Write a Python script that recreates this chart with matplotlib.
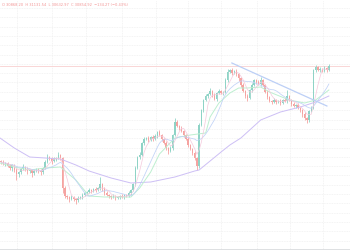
import numpy as np
import pandas as pd
import matplotlib
matplotlib.use("Agg")
import matplotlib.pyplot as plt

# candle closes
closes = [29080, 29040, 29060, 29000, 28960, 29020, 28920, 28840, 28880, 28940,
          28980, 28940, 28900, 28920, 28860, 28900, 28940, 28900, 28880, 28960,
          29080, 29180, 29160, 29100, 29140, 29160, 29220, 29160, 28560, 28400,
          28380, 28340, 28380, 28340, 28320, 28360, 28380, 28420, 28460, 28480,
          28520, 28500, 28540, 28520, 28560, 28640, 28560, 28460, 28420, 28400,
          28380, 28400, 28360, 28380, 28400, 28380, 28420, 28400, 28460, 28520,
          28640, 28960, 29180, 29220, 29460, 29540, 29560, 29520, 29580, 29540,
          29600, 29680, 29620, 29540, 29460, 29360, 29300, 29360, 29620, 29880,
          29800, 29760, 29700, 29620, 29540, 29420, 29340, 29260, 29160, 29000,
          29820, 30120, 30320, 30400, 30440, 30500, 30420, 30340, 30460, 30500,
          30460, 30480, 30720, 30880, 30920, 30860, 30900, 30840, 30760, 30620,
          30500, 30400, 30360, 30520, 30620, 30720, 30680, 30640, 30720, 30620,
          30480, 30380, 30300, 30280, 30320, 30280, 30300, 30260, 30320, 30300,
          30400, 30320, 30240, 30200, 30220, 30160, 30120, 30040, 29960, 29920,
          30100, 30160, 30920, 30980, 30920, 30940, 30900, 30960, 30920, 31000]
first_open = 29100

# wick lengths above / below the body (price units)
wick_up = [20, 40, 20, 20, 40, 20, 20, 40, 20, 20,
           60, 20, 40, 20, 20, 40, 20, 20, 40, 20,
           40, 60, 20, 20, 40, 20, 60, 20, 20, 40,
           20, 20, 40, 20, 20, 40, 20, 40, 20, 20,
           40, 20, 20, 40, 20, 140, 20, 20, 40, 20,
           20, 40, 20, 20, 20, 40, 20, 20, 40, 20,
           20, 40, 20, 60, 20, 40, 20, 40, 20, 40,
           40, 20, 40, 20, 20, 40, 20, 40, 20, 80,
           40, 20, 40, 20, 20, 40, 20, 20, 40, 20,
           40, 20, 20, 40, 20, 60, 20, 40, 20, 40,
           20, 20, 40, 60, 20, 40, 20, 40, 20, 20,
           40, 20, 40, 20, 40, 20, 20, 40, 60, 20,
           20, 40, 20, 20, 40, 20, 20, 40, 20, 40,
           120, 20, 20, 40, 20, 40, 20, 20, 40, 20,
           20, 40, 20, 40, 20, 40, 20, 40, 20, 40]
wick_dn = [40, 20, 40, 20, 40, 60, 40, 120, 60, 40,
           20, 40, 60, 40, 80, 40, 20, 40, 60, 40,
           20, 20, 40, 60, 20, 40, 20, 40, 100, 40,
           40, 60, 20, 40, 80, 40, 20, 40, 20, 40,
           20, 40, 20, 40, 20, 40, 60, 40, 20, 40,
           40, 20, 40, 20, 40, 20, 40, 20, 20, 40,
           20, 40, 20, 40, 20, 40, 20, 40, 20, 40,
           20, 40, 20, 40, 20, 40, 60, 20, 40, 20,
           20, 40, 20, 40, 20, 40, 20, 40, 40, 80,
           40, 20, 40, 20, 40, 20, 40, 20, 40, 20,
           20, 40, 20, 40, 20, 40, 20, 40, 60, 40,
           20, 40, 60, 20, 40, 20, 40, 20, 40, 20,
           20, 40, 20, 40, 20, 40, 20, 40, 20, 20,
           40, 20, 40, 20, 40, 20, 40, 60, 40, 60,
           40, 20, 20, 40, 20, 40, 20, 20, 40, 20]

# long moving averages (candle index, price)
ma_slow_idx = [-0.5, 6, 13, 20, 27, 34, 40, 50, 59, 68, 79, 88, 90, 95, 100, 104, 109, 118, 127, 136, 143, 149]
ma_slow_val = [29560, 29360, 29180, 29160, 29140, 29020, 28900, 28760, 28660, 28680, 28780,
               28900, 28920, 29100, 29280, 29420, 29560, 29920, 30080, 30180, 30280, 30400]
ma_mid_idx = [-0.5, 6, 13, 20, 27, 34, 40, 47, 59, 63, 68, 72, 79, 86, 93, 95, 99, 104, 108, 112, 118, 122, 131, 138, 143, 149]
ma_mid_val = [29060, 28980, 28920, 28960, 28980, 28720, 28400, 28380, 28380, 28560, 28880,
              29240, 29560, 29620, 29660, 29980, 30260, 30460, 30560, 30560, 30580, 30480,
              30320, 30260, 30320, 30520]

# drawn trend line (candle index, price)
trend_idx = [104.9, 148.1]
trend_val = [31060, 30200]

header = "O 30868.20  H 31131.54  L 30632.97  C 30854.92  \u2212134.27 (\u22120.43%)"

df = pd.DataFrame({"close": closes})
df["open"] = df["close"].shift(1).fillna(first_open)
df["high"] = df[["open", "close"]].max(axis=1) + wick_up
df["low"] = df[["open", "close"]].min(axis=1) - wick_dn
ma_fast = df["close"].rolling(5, min_periods=1).mean()
ma_short = df["close"].rolling(12, min_periods=1).mean()
idx = np.arange(len(df))

fig = plt.figure(figsize=(3.5, 2.5), dpi=100)
ax = fig.add_axes([0, 0, 1, 1])

# grid
for gx in [7.2, 23.1, 38.6, 55, 70.4, 85, 100, 116.3, 131.3, 146.3]:
    ax.axvline(gx, color='#f0f0f0', lw=0.6, ls=(0, (1, 1)), zorder=0)
for gy in np.arange(32160, 27300, -186):
    ax.axhline(gy, color='#f0f0f0', lw=0.6, ls=(0, (1, 1)), zorder=0)

up = df["close"] >= df["open"]
col = np.where(up, '#8fd3c6', '#f5a3a1')
ax.vlines(idx, df["low"], df["high"], colors=col, lw=0.6, zorder=2)
ax.bar(idx, (df["close"] - df["open"]).abs(), bottom=df[["open", "close"]].min(axis=1),
       width=0.65, color=col, zorder=3)

ax.plot(ma_slow_idx, ma_slow_val, color='#cdbff5', lw=0.7, zorder=4)
ax.plot(ma_mid_idx, ma_mid_val, color='#bdefd0', lw=0.7, zorder=4)
ax.plot(idx, ma_short, color='#c0d2f7', lw=0.55, zorder=4)
ax.plot(idx, ma_fast, color='#f5c9dc', lw=0.5, zorder=4)
ax.plot(trend_idx, trend_val, color='#bccff6', lw=0.9, zorder=5)

ax.axhline(closes[-1], color='#f9d0d0', lw=0.6, zorder=1)

ax.text(0.006, 0.988, header, transform=ax.transAxes, fontsize=2.6,
        color='#f29595', va='top', ha='left')

ax.set_xlim(-0.5, 158.6)
ax.set_ylim(27320, 32320)
ax.set_xticks([])
ax.set_yticks([])
for s in ['top', 'left', 'right']:
    ax.spines[s].set_visible(False)
ax.spines['bottom'].set_color('#d8dadd')
ax.spines['bottom'].set_linewidth(1.2)

fig.savefig('out.png', dpi=100)
